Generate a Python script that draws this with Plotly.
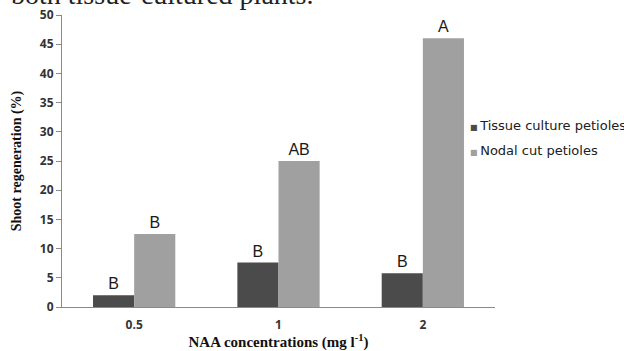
import plotly.graph_objects as go

categories = ["0.5", "1", "2"]
tissue_culture = [2.0, 7.6, 5.8]
nodal_cut = [12.5, 25.0, 46.0]
tissue_letters = ["B", "B", "B"]
nodal_letters = ["B", "AB", "A"]
y_ticks = [0, 5, 10, 15, 20, 25, 30, 35, 40, 45, 50]
series_names = ["Tissue culture petioles", "Nodal cut petioles"]

DARK = "#4b4b4b"
LIGHT = "#a0a0a0"

fig = go.Figure()
for name, vals, letters, col in [
    (series_names[0], tissue_culture, tissue_letters, DARK),
    (series_names[1], nodal_cut, nodal_letters, LIGHT),
]:
    fig.add_trace(go.Bar(
        x=categories, y=vals, name=name, marker=dict(color=col, line=dict(width=0)),
        text=letters, textposition="outside", cliponaxis=False,
        textfont=dict(family="Liberation Sans", size=16, color="#1a1a1a"),
        showlegend=False,
    ))

# legend drawn as text entries
for i, (name, col) in enumerate(zip(series_names, [DARK, LIGHT])):
    fig.add_annotation(
        xref="paper", yref="paper", x=(468 - 62) / 433, y=(307 - (125.5 + 24.5 * i)) / 292,
        xanchor="left", yanchor="middle", showarrow=False,
        text=f'<span style="color:{col};font-size:8px">■</span>&#8201;{name}',
        font=dict(family="DejaVu Sans", size=13, color="#202020"),
    )

# clipped line of page text at the very top
fig.add_annotation(
    xref="paper", yref="paper", x=(316 - 62) / 433, y=(307 - 15) / 292,
    xanchor="right", yanchor="bottom", yshift=3, showarrow=False,
    text="both tissue-cultured plants.",
    font=dict(family="Liberation Serif", size=28, color="#222222"),
)

fig.update_layout(
    width=624, height=351,
    margin=dict(l=62, r=129, t=15, b=44, autoexpand=False),
    paper_bgcolor="white", plot_bgcolor="white",
    barmode="group", bargap=0.43, bargroupgap=0,
    xaxis=dict(
        type="category", showline=True, linecolor="#8a8a8a", linewidth=1,
        ticks="", showgrid=False, ticklabelstandoff=7,
        tickfont=dict(family="Open Sans", size=12, color="#333333", weight="bold"),
        title=dict(text="NAA concentrations (mg l<sup>-1</sup>)", standoff=2,
                   font=dict(family="Liberation Serif", size=15, color="#111111", weight="bold")),
    ),
    yaxis=dict(
        range=[0, 50], tickvals=y_ticks, showline=True, linecolor="#8a8a8a", linewidth=1,
        ticks="outside", ticklen=5, tickcolor="#8a8a8a", showgrid=False, zeroline=False,
        tickfont=dict(family="Open Sans", size=12, color="#333333", weight="bold"),
        title=dict(text="Shoot regeneration (%)", standoff=14,
                   font=dict(family="Liberation Serif", size=14, color="#111111", weight="bold")),
    ),
)

fig.write_html("out.html", config={"displayModeBar": False},
               post_script="document.body.style.margin='0';")
